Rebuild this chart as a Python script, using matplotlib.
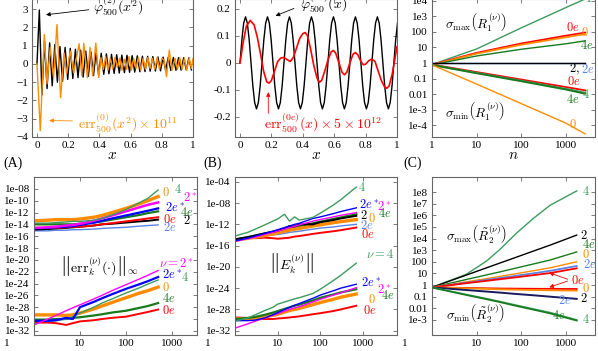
import numpy as np
import matplotlib.pyplot as plt

plt.rcParams['font.family'] = 'serif'
plt.rcParams['font.serif'] = ['Liberation Serif', 'DejaVu Serif']
plt.rcParams['mathtext.fontset'] = 'cm'
plt.rcParams['font.size'] = 8

ORANGE = '#ff8c00'
RED = '#ff0000'
GREEN = '#3d9a5e'
DGREEN = '#177a1e'
MAGENTA = '#ff00ff'
BLUE = '#0000ff'
LBLUE = '#5a82e6'

# ---------------- panel A: phi(x^2) and its error ----------------
phiA_y = [0, 2.95, -1.7, 1.25, -1.35, 1.15, -1.2, 1.05, -1.0, 0.95, -0.95, 0.9, -0.85,
          0.85, -0.8, 0.8, -0.75, 0.75, -0.72, 0.7, -0.68, 0.66, -0.64, 0.62, -0.6,
          0.58, -0.57, 0.55, -0.54, 0.52, -0.52, 0.5, -0.5, 0.48, -0.48, 0.47, -0.46,
          0.45, -0.45, 0.44, -0.43, 0.42, -0.42, 0.41, -0.4, 0.4, -0.39, 0.38, -0.38,
          0.37, -0.36, 0.36, -0.36, 0.35, -0.35, 0.34, -0.34, 0.34, -0.33, 0.33, -0.33]
phiA_x = np.concatenate([[0.0], np.linspace(0.015, 0.99, len(phiA_y) - 1)])

errA_x = [0, 0.021, 0.047, 0.064, 0.085, 0.106, 0.128, 0.151, 0.174, 0.19, 0.213, 0.235,
          0.27, 0.287, 0.30, 0.323, 0.34, 0.357, 0.377, 0.396, 0.41, 0.425, 0.44, 0.455,
          0.47, 0.485, 0.50, 0.515, 0.53, 0.545, 0.56, 0.575, 0.59, 0.605, 0.62, 0.635,
          0.65, 0.665, 0.68, 0.695, 0.71, 0.725, 0.74, 0.755, 0.77, 0.785, 0.80, 0.815,
          0.83, 0.848, 0.865, 0.885, 0.9, 0.915, 0.93, 0.945, 0.96, 0.975, 0.99, 1.0]
errA_y = [0, -3.65, 1.6, -1.1, 0.9, -0.75, 2.15, -1.85, 0.6, -0.55, 0.7, -0.5,
          1.1, -0.65, 1.12, -0.75, 0.9, -0.65, 1.14, -0.75, 0.35, -0.3, 0.4, -0.35,
          0.3, -0.3, 0.35, -0.2, 0.3, -0.35, 0.25, -0.3, 0.4, -0.35, 0.3, -0.25,
          0.35, -0.35, 0.3, -0.3, 0.35, -0.25, 0.3, -0.3, 0.35, -0.3, 0.3, 0.2,
          -0.7, 0.75, -0.35, 0.3, -0.3, 0.35, -0.3, 0.3, -0.35, 0.3, -0.25, 0.3]

# ---------------- panel B: phi(x) and its error ----------------
phiB_period = [0, .085, .147, .17, .147, .085, 0, -.085, -.147, -.17, -.147, -.085]
phiB_y = phiB_period * 7 + [0, .085, .147]
phiB_x = np.arange(len(phiB_y)) * 0.14 / 12

errB_x = [0, 0.02, 0.04, 0.065, 0.09, 0.11, 0.13, 0.15, 0.17, 0.185, 0.2, 0.22, 0.24,
          0.26, 0.28, 0.3, 0.32, 0.34, 0.36, 0.38, 0.4, 0.415, 0.43, 0.45, 0.47, 0.49,
          0.505, 0.52, 0.54, 0.56, 0.58, 0.595, 0.61, 0.63, 0.65, 0.665, 0.68, 0.7,
          0.72, 0.735, 0.75, 0.77, 0.785, 0.8, 0.82, 0.84, 0.86, 0.88, 0.9, 0.92,
          0.935, 0.95, 0.97, 0.985, 1.0]
errB_y = [0, 0.075, 0.135, 0.157, 0.14, 0.095, 0.035, -0.03, -0.07, -0.075, -0.065,
          -0.03, 0.005, 0.018, 0.02, 0.012, 0.005, 0.02, 0.055, 0.09, 0.108, 0.112, 0.1,
          0.05, -0.01, -0.055, -0.072, -0.065, -0.03, 0.01, 0.04, 0.046, 0.035, 0.0,
          -0.035, -0.044, -0.035, 0.0, 0.032, 0.038, 0.03, 0.005, -0.007, -0.005, 0.008,
          0.014, 0.005, -0.03, -0.065, -0.088, -0.094, -0.085, -0.04, 0.01, 0.06]

# ---------------- panel C: singular values of R1 (log10) ----------------
nC = [1, 10, 100, 1000, 2700]
C_max4 = [-0.1, 0.9, 2.25, 3.55, 4.1]
C_max0e = [-0.1, 0.65, 1.25, 1.75, 1.95]
C_max0 = [-0.12, 0.6, 1.17, 1.65, 1.85]
C_max4e = [-0.12, 0.45, 0.88, 1.23, 1.42]
C_one = [0, 0, 0, 0, 0]
C_min0e = [-0.1, -0.58, -1.06, -1.54, -1.75]
C_min4 = [-0.12, -0.63, -1.13, -1.65, -1.9]
C_min4e = [-0.13, -0.66, -1.17, -1.7, -1.97]
C_min0 = [-0.12, -1.35, -2.6, -3.85, -4.54]

# ---------------- panel D: ||err_k|| (log10) ----------------
nD = [1, 2, 3, 5, 7, 10, 20, 30, 50, 100, 200, 300, 500]
D_up = {
    '4':   [-13.8, -13.8, -13.7, -13.6, -13.5, -13.5, -13.3, -13.0, -12.4, -11.5, -10.3, -9.6, -8.2],
    '0':   [-13.4, -13.3, -13.2, -13.2, -13.2, -13.1, -12.8, -12.5, -12.0, -11.3, -10.5, -10.0, -9.3],
    '2*':  [-14.6, -14.5, -14.4, -14.2, -14.1, -13.9, -13.4, -13.0, -12.5, -11.8, -11.1, -10.7, -10.3],
    '2e*': [-14.7, -14.6, -14.5, -14.4, -14.3, -14.1, -13.7, -13.4, -13.0, -12.5, -12.0, -11.7, -11.3],
    '4e':  [-14.0, -14.0, -14.0, -14.0, -14.0, -13.9, -13.7, -13.5, -13.2, -12.8, -12.4, -12.1, -11.8],
    '0e':  [-14.6, -14.6, -14.6, -14.5, -14.4, -14.4, -14.2, -14.0, -13.8, -13.5, -13.2, -13.0, -12.8],
    '2':   [-14.9, -14.8, -14.7, -14.6, -14.5, -14.4, -14.2, -14.0, -13.9, -13.7, -13.5, -13.4, -13.2],
    '2e':  [-15.1, -15.1, -15.0, -15.0, -14.9, -14.9, -14.8, -14.7, -14.6, -14.5, -14.3, -14.2, -14.1],
}
D_low = {
    '2*':  [-31.0, -30.0, -29.4, -28.6, -28.1, -27.6, -26.6, -26.0, -25.2, -24.2, -23.2, -22.6, -21.8],
    '2e*': [-30.3, -30.3, -30.2, -29.8, -30.0, -28.0, -27.1, -26.5, -25.8, -24.9, -24.1, -23.6, -22.9],
    '4':   [-30.4, -30.4, -30.3, -30.0, -29.6, -29.0, -28.0, -27.3, -26.6, -25.6, -24.7, -24.1, -23.4],
    '0':   [-29.3, -29.3, -29.3, -29.4, -29.3, -29.0, -28.3, -27.8, -27.2, -26.4, -25.6, -25.2, -24.6],
    '4e':  [-30.1, -30.1, -30.0, -30.0, -29.8, -29.7, -29.4, -29.2, -28.9, -28.6, -28.1, -27.8, -27.3],
    '0e':  [-30.6, -30.6, -30.7, -31.0, -30.7, -30.4, -30.2, -30.0, -29.8, -29.6, -29.1, -28.8, -28.4],
}

# ---------------- panel E: ||E_k|| (log10) ----------------
nE = [1, 2, 3, 5, 7.7, 10, 14.5, 19, 25, 32, 67, 100, 200, 300, 700]
E_up = {
    '4':   [-14.2, -13.5, -12.9, -12.1, -11.4, -11.0, -10.1, -11.4, -10.6, -11.2, -10.7, -9.9, -8.4, -7.4, -5.0],
    '2e*': [-15.1, -14.6, -14.2, -13.7, -13.3, -13.0, -12.6, -12.3, -12.0, -11.8, -10.9, -10.6, -10.0, -9.6, -8.9],
    '2*':  [-15.2, -14.7, -14.4, -13.9, -13.5, -13.3, -12.9, -12.6, -12.4, -12.1, -11.4, -11.1, -10.6, -10.3, -9.8],
    '2':   [-14.8, -14.4, -14.1, -13.7, -13.4, -13.2, -12.8, -12.3, -12.4, -12.0, -12.0, -11.6, -11.2, -10.9, -10.4],
    '0':   [-15.0, -14.6, -14.4, -14.1, -13.8, -13.6, -13.3, -13.1, -12.9, -12.8, -12.3, -12.1, -11.7, -11.5, -11.1],
    '4e':  [-14.9, -14.4, -14.1, -13.7, -13.4, -13.2, -12.9, -12.7, -12.5, -12.3, -11.8, -11.5, -11.0, -10.7, -10.1],
    '2e':  [-15.0, -14.7, -14.5, -14.2, -14.0, -13.9, -13.7, -13.5, -13.4, -13.3, -12.9, -12.7, -12.5, -12.3, -12.0],
    '0e':  [-14.8, -14.6, -14.6, -14.5, -14.6, -14.7, -14.6, -14.5, -14.3, -14.2, -13.8, -13.6, -13.3, -13.1, -12.6],
}
E_low = {
    '4':   [-30.2, -29.6, -29.0, -28.2, -27.6, -27.0, -26.6, -26.3, -26.0, -25.8, -25.0, -24.2, -22.6, -21.6, -19.3],
    '2e*': [-30.1, -30.1, -30.0, -29.6, -29.0, -28.6, -28.0, -27.6, -27.2, -26.9, -25.9, -25.3, -24.5, -24.0, -23.25],
    '2*':  [-31.5, -30.7, -30.2, -29.6, -29.1, -28.8, -28.3, -28.0, -27.7, -27.5, -26.6, -26.1, -25.3, -24.9, -23.9],
    '4e':  [-29.8, -29.6, -29.4, -29.0, -28.6, -28.3, -27.9, -27.6, -27.3, -27.1, -26.3, -25.8, -25.2, -24.8, -24.2],
    '0':   [-29.8, -29.7, -29.6, -29.4, -29.1, -28.9, -28.5, -28.2, -28.0, -27.8, -27.1, -26.7, -26.1, -25.7, -25.1],
    '0e':  [-29.5, -29.6, -29.7, -29.8, -29.8, -29.7, -29.6, -29.5, -29.4, -29.3, -28.9, -28.7, -28.3, -28.0, -27.3],
}

# ---------------- panel F: singular values of R2 (log10) ----------------
nF = [1, 5.9, 16.6, 33, 78, 186, 440, 1750]
F_max4 = [-0.2, 0.93, 2.06, 3.05, 4.46, 5.73, 6.86, 8.1]
F_max2 = [-0.2, 0.86, 1.48, 1.89, 2.4, 2.92, 3.43, 4.3]
F_max4e = [-0.2, 0.48, 0.87, 1.13, 1.47, 1.81, 2.15, 2.85]
F_max0 = [-0.2, 0.28, 0.55, 0.74, 0.98, 1.23, 1.48, 2.0]
F_max2e = [-0.2, 0.2, 0.44, 0.6, 0.8, 1.01, 1.22, 1.64]
F_max0e = [-0.2, 0.16, 0.36, 0.5, 0.67, 0.85, 1.03, 1.44]
F_min0e = [-0.2, -0.25, -0.28, -0.3, -0.31, -0.32, -0.33, -0.34]
F_min0 = [-0.2, -0.28, -0.33, -0.37, -0.4, -0.43, -0.45, -0.48]
F_min2 = [-0.2, -0.43, -0.56, -0.65, -0.77, -0.88, -1.0, -1.19]
F_min4 = [-0.2, -0.82, -1.17, -1.42, -1.74, -2.06, -2.37, -3.0]
F_min4e = [-0.22, -0.86, -1.22, -1.47, -1.8, -2.12, -2.44, -3.06]

fig = plt.figure(figsize=(5.98, 3.51), dpi=100)
W, H = 598.0, 351.0
BIG = 10
LAB = 9


def add_axes(left, right, top, bottom):
    return fig.add_axes([left / W, 1 - bottom / H, (right - left) / W, (bottom - top) / H])


def style(ax):
    for s in ax.spines.values():
        s.set_color('#666666')
        s.set_linewidth(0.8)
    ax.tick_params(direction='in', length=3, width=0.6, top=True, right=True,
                   labelsize=8, color='#666666', pad=3)
    ax.minorticks_off()


def lbl(ax, x, y, s, c, **kw):
    ax.text(x, y, s, color=c, fontsize=LAB, ha='left', va='center', **kw)


# ---- A ----
axA = add_axes(32, 193, -1, 137)
axA.plot(phiA_x, phiA_y, color='k', lw=1.0)
axA.plot(errA_x, errA_y, color=ORANGE, lw=1.0)
axA.set_xlim(-0.032, 1.0)
axA.set_ylim(-4, 3.55)
axA.set_yticks([-4, -3, -2, -1, 0, 1, 2, 3])
axA.set_xticks([0, 0.2, 0.4, 0.6, 0.8, 1])
axA.set_xticklabels(['0', '0.2', '0.4', '0.6', '0.8', '1'])
style(axA)
axA.set_xlabel('$x$', fontsize=11, labelpad=-1)
axA.text(0.36, 3.2, r'$\varphi_{500}^{(2)}(x^2)$', fontsize=BIG, va='center', clip_on=False)
axA.annotate('', xy=(0.04, 2.67), xytext=(0.35, 2.98),
             arrowprops=dict(arrowstyle='-|>', color='k', lw=0.6, mutation_scale=6))
axA.text(0.26, -3.23, r'$\mathrm{err}_{500}^{(0)}(x^2)\times 10^{11}$', fontsize=BIG,
         va='center', color=ORANGE)
axA.annotate('', xy=(0.06, -3.1), xytext=(0.245, -3.12),
             arrowprops=dict(arrowstyle='-|>', color=ORANGE, lw=0.6, mutation_scale=6))

# ---- B ----
axB = add_axes(235, 397, -1, 137)
axB.plot(phiB_x, phiB_y, color='k', lw=1.0)
axB.plot(errB_x, errB_y, color=RED, lw=1.2)
axB.set_xlim(-0.032, 1.0)
axB.set_ylim(-0.274, 0.236)
axB.set_yticks([-0.2, -0.1, 0, 0.1, 0.2])
axB.set_yticklabels(['-0.2', '-0.1', '0', '0.1', '0.2'])
axB.set_xticks([0, 0.2, 0.4, 0.6, 0.8, 1])
axB.set_xticklabels(['0', '0.2', '0.4', '0.6', '0.8', '1'])
style(axB)
axB.set_xlabel('$x$', fontsize=11, labelpad=-1)
axB.text(0.38, 0.222, r'$\varphi_{500}^{(2e)}(x)$', fontsize=BIG, va='center', clip_on=False)
axB.annotate('', xy=(0.21, 0.17), xytext=(0.36, 0.205),
             arrowprops=dict(arrowstyle='-|>', color='k', lw=0.6, mutation_scale=6))
axB.text(0.15, -0.222, r'$\mathrm{err}_{500}^{(0e)}(x)\times 5\times 10^{12}$', fontsize=BIG,
         va='center', color=RED)
axB.annotate('', xy=(0.18, -0.098), xytext=(0.18, -0.197),
             arrowprops=dict(arrowstyle='-|>', color=RED, lw=0.6, mutation_scale=6))

# ---- C ----
axC = add_axes(432, 595, -1, 137)
p = lambda a: 10.0 ** np.array(a)
axC.loglog(nC, p(C_max4), color=GREEN, lw=1.0)
axC.loglog(nC, p(C_max0e), color=RED, lw=1.3)
axC.loglog(nC, p(C_max0), color=ORANGE, lw=1.3)
axC.loglog(nC, p(C_max4e), color=DGREEN, lw=1.0)
axC.loglog(nC, p(C_one), color=LBLUE, lw=1.0)
axC.loglog(nC, p(C_one), color='k', lw=1.0)
axC.loglog(nC, p(C_min0e), color=RED, lw=1.3)
axC.loglog(nC, p(C_min4), color=GREEN, lw=1.3)
axC.loglog(nC, p(C_min4e), color=DGREEN, lw=1.3)
axC.loglog(nC, p(C_min0), color=ORANGE, lw=1.0)
axC.set_xlim(1, 4500)
axC.set_ylim(10 ** -4.74, 10 ** 4.1)
axC.set_yticks([1e-4, 1e-3, 1e-2, 1e-1, 1, 10, 100, 1e3, 1e4])
axC.set_yticklabels(['1e-4', '1e-3', '0.01', '0.1', '1', '10', '100', '1e3', '1e4'])
axC.set_xticks([1, 10, 100, 1000])
axC.set_xticklabels(['1', '10', '100', '1000'])
style(axC)
axC.set_xlabel('$n$', fontsize=11, labelpad=-1)
axC.text(2.0, 10 ** 2.55, r'$\sigma_{\max}\left(R_1^{(\nu)}\right)$', fontsize=9.5, va='center')
axC.text(2.0, 10 ** -3.12, r'$\sigma_{\min}\left(R_1^{(\nu)}\right)$', fontsize=9.5, va='center')
lbl(axC, 1000, 10 ** 2.3, '$0e$', RED)
lbl(axC, 2200, 10 ** 1.96, '$0$', ORANGE)
lbl(axC, 2100, 10 ** 1.15, '$4e$', DGREEN)
lbl(axC, 2500, 10 ** 4.15, '$4$', GREEN)
lbl(axC, 1150, 10 ** -0.42, '$2,$', 'k')
lbl(axC, 2200, 10 ** -0.42, '$2e$', LBLUE)
lbl(axC, 1050, 10 ** -1.2, '$0e$', RED)
lbl(axC, 2300, 10 ** -2.0, '$4$', GREEN)
lbl(axC, 1000, 10 ** -2.36, '$4e$', DGREEN)
lbl(axC, 1200, 10 ** -3.95, '$0$', ORANGE)

# ---- D ----
axD = add_axes(34, 197, 177, 335)
col = {'4': GREEN, '0': ORANGE, '2*': MAGENTA, '2e*': BLUE, '4e': DGREEN,
       '0e': RED, '2': 'k', '2e': LBLUE}
wid = {'4': 1.0, '0': 2.4, '2*': 1.8, '2e*': 1.6, '4e': 1.6, '0e': 1.4, '2': 1.4, '2e': 1.0}
for k in ['2e', '2', '0e', '4e', '2e*', '2*', '0', '4']:
    axD.loglog(nD, p(D_up[k]), color=col[k], lw=wid[k])
for k in ['0e', '4e', '0', '4', '2e*', '2*']:
    axD.loglog(nD, p(D_low[k]), color=col[k], lw=wid[k] if k != '2*' else 1.0)
axD.set_xlim(1, 3500)
axD.set_ylim(10 ** -32.7, 10 ** -6.0)
yt = list(range(-32, -7, 2))
axD.set_yticks([10.0 ** v for v in yt])
axD.set_yticklabels(['1e%03d' % v for v in yt])
axD.set_xticks([10, 100, 1000])
axD.set_xticklabels(['10', '100', '1000'])
style(axD)
axD.text(10 ** 0.56, 1e-21, r'$\left\|\mathrm{err}_k^{(\nu)}(\cdot)\right\|_\infty$',
         fontsize=BIG, va='center')
lbl(axD, 600, 10 ** -8.7, '$0$', ORANGE)
lbl(axD, 1100, 10 ** -8.1, '$4$', GREEN)
lbl(axD, 1700, 10 ** -9.5, '$2^*$', MAGENTA)
lbl(axD, 700, 10 ** -11.2, '$2e^*$', BLUE)
lbl(axD, 1500, 10 ** -12.0, '$4e$', DGREEN)
lbl(axD, 650, 10 ** -13.1, '$0e$', RED)
lbl(axD, 1700, 10 ** -13.4, '$2$', 'k')
lbl(axD, 650, 10 ** -14.5, '$2e$', LBLUE)
lbl(axD, 520, 10 ** -20.7, r'$\nu = 2^*$', MAGENTA)
lbl(axD, 620, 10 ** -22.4, '$2e^*$', BLUE)
lbl(axD, 1600, 10 ** -22.9, '$4$', GREEN)
lbl(axD, 620, 10 ** -24.6, '$0$', ORANGE)
lbl(axD, 620, 10 ** -26.5, '$4e$', DGREEN)
lbl(axD, 620, 10 ** -28.5, '$0e$', RED)

# ---- E ----
axE = add_axes(235, 397, 177, 335)
for k in ['0e', '2e', '4e', '0', '2', '2*', '2e*', '4']:
    axE.loglog(nE, p(E_up[k]), color=col[k], lw=wid[k] if k not in ('2*', '2e*') else 1.0)
for k in ['0e', '0', '4e', '2*', '2e*', '4']:
    axE.loglog(nE, p(E_low[k]), color=col[k], lw=wid[k] if k not in ('2*', '2e*') else 1.0)
axE.set_xlim(1, 6300)
axE.set_ylim(10 ** -32.8, 10 ** -3.1)
yt = list(range(-32, -3, 4))
axE.set_yticks([10.0 ** v for v in yt])
axE.set_yticklabels(['1e%03d' % v for v in yt])
axE.set_xticks([10, 100, 1000])
axE.set_xticklabels(['10', '100', '1000'])
style(axE)
axE.text(10 ** 0.8, 10 ** -19.2, r'$\left\|E_k^{(\nu)}\right\|$', fontsize=BIG, va='center')
lbl(axE, 750, 10 ** -5.1, '$4$', GREEN)
lbl(axE, 800, 10 ** -8.25, '$2e^*$', BLUE)
lbl(axE, 2100, 10 ** -8.6, '$2^*$', MAGENTA)
lbl(axE, 850, 10 ** -10.4, '$2$', 'k')
lbl(axE, 1300, 10 ** -10.9, '$0$', ORANGE)
lbl(axE, 2300, 10 ** -10.0, '$4e$', DGREEN)
lbl(axE, 850, 10 ** -12.3, '$2e$', LBLUE)
lbl(axE, 900, 10 ** -13.9, '$0e$', RED)
lbl(axE, 1200, 10 ** -17.6, r'$\nu = 4$', GREEN)
lbl(axE, 900, 10 ** -22.9, '$2e^*$', BLUE)
lbl(axE, 2100, 10 ** -24.2, '$2^*$', MAGENTA)
lbl(axE, 2700, 10 ** -25.4, '$4e$', DGREEN)
lbl(axE, 1300, 10 ** -26.1, '$0$', ORANGE)
lbl(axE, 1000, 10 ** -28.25, '$0e$', RED)

# ---- F ----
axF = add_axes(432, 595, 177, 335)
axF.loglog(nF, p(F_max4), color=GREEN, lw=1.0)
axF.loglog(nF, p(F_max2), color='k', lw=1.0)
axF.loglog(nF, p(F_max4e), color=DGREEN, lw=1.0)
axF.loglog(nF, p(F_max0), color=ORANGE, lw=1.0)
axF.loglog(nF, p(F_max2e), color=LBLUE, lw=1.3)
axF.loglog(nF, p(F_max0e), color=RED, lw=1.3)
axF.loglog(nF, p(F_min0e), color=RED, lw=1.3)
axF.loglog(nF, p(F_min0), color=ORANGE, lw=1.3)
axF.loglog(nF, p(F_min2), color='#1a1a60', lw=1.4)
axF.loglog(nF, p(F_min4), color=GREEN, lw=1.2)
axF.loglog(nF, p(F_min4e), color=DGREEN, lw=1.2)
axF.set_xlim(1, 4500)
axF.set_ylim(10 ** -4.3, 10 ** 9.3)
axF.set_yticks([1e-3, 1e-2, 1e-1, 1, 10, 100, 1e3, 1e4, 1e5, 1e6, 1e7, 1e8])
axF.set_yticklabels(['1e-3', '0.01', '0.1', '1', '10', '100', '1e3', '1e4', '1e5', '1e6',
                     '1e7', '1e8'])
axF.set_xticks([10, 100, 1000])
axF.set_xticklabels(['10', '100', '1000'])
style(axF)
axF.text(2.1, 10 ** 4.3, r'$\sigma_{\max}\left(\tilde{R}_2^{(\nu)}\right)$', fontsize=9.5,
         va='center')
axF.text(2.1, 10 ** -2.46, r'$\sigma_{\min}\left(\tilde{R}_2^{(\nu)}\right)$', fontsize=9.5,
         va='center')
lbl(axF, 2300, 10 ** 8.05, '$4$', GREEN)
lbl(axF, 2100, 10 ** 4.3, '$2$', 'k')
lbl(axF, 2300, 10 ** 3.5, '$4e$', DGREEN)
lbl(axF, 2300, 10 ** 2.6, '$0$', ORANGE)
lbl(axF, 2400, 10 ** 1.8, '$2e$', LBLUE)
lbl(axF, 1300, 10 ** 0.42, '$0e$', RED)
lbl(axF, 2300, 10 ** -0.34, '$0$', ORANGE)
lbl(axF, 650, 10 ** -1.33, '$2e$', LBLUE)
lbl(axF, 2100, 10 ** -1.19, '$2$', 'k')
lbl(axF, 500, 10 ** -2.6, '$4e$', DGREEN)
lbl(axF, 2300, 10 ** -3.0, '$4$', GREEN)
for ty in (10 ** 1.14, 10 ** -0.27):
    axF.annotate('', xy=(370, ty), xytext=(1250, 10 ** 0.42),
                 arrowprops=dict(arrowstyle='-|>', color=RED, lw=0.6, mutation_scale=6))

# bottom-row "1" labels sit left of the frame
for ax in (axD, axE, axF):
    ax.annotate('1', xy=(0, 0), xycoords='axes fraction', xytext=(-27, -9),
                textcoords='offset pixels', ha='center', va='center', fontsize=8)

fig.text(3 / W, 1 - 163 / H, '(A)', fontsize=10, va='center')
fig.text(203 / W, 1 - 163 / H, '(B)', fontsize=10, va='center')
fig.text(403 / W, 1 - 163 / H, '(C)', fontsize=10, va='center')

fig.savefig('out.png', dpi=100)
